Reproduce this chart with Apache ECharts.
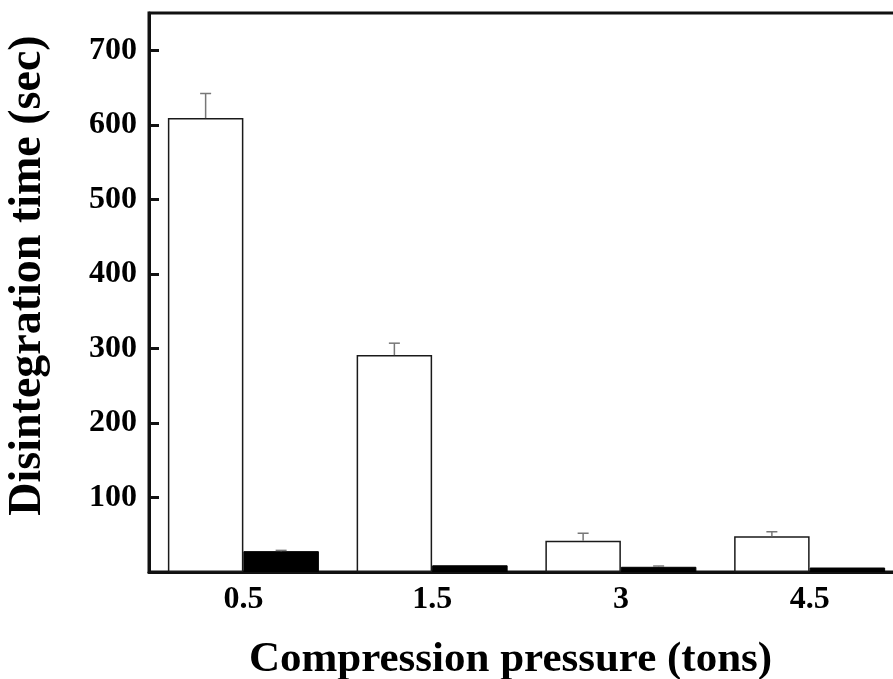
<!DOCTYPE html>
<html>
<head>
<meta charset="utf-8">
<script src="https://cdn.jsdelivr.net/npm/echarts@6/dist/echarts.min.js"></script>
<style>
    html, body { margin: 0; padding: 0; background: #fff; }
    #chart { width: 893px; height: 679px; }
</style>
</head>
<body>
<div id="chart"></div>
<script>
// Data
var categories = ['0.5', '1.5', '3', '4.5'];
var openValues = [609, 291, 42, 48];
var openErrors = [33, 16, 10, 6];
var filledValues = [28, 9, 7, 6];
var filledErrors = [1, 0, 1, 0];

var fontFamily = '"Liberation Serif", "Times New Roman", serif';

// Error bar items: [category index, value, error, side]
var errorData = [];
categories.forEach(function (c, i) {
    errorData.push([i, openValues[i], openErrors[i], -1]);
    if (filledErrors[i] > 0) {
        errorData.push([i, filledValues[i], filledErrors[i], 1]);
    }
});

var chart = echarts.init(document.getElementById('chart'), null, { renderer: 'canvas' });

chart.setOption({
    backgroundColor: '#fff',
    animation: false,
    grid: {
        left: 149,
        top: 13,
        width: 755,
        height: 559,
        outerBoundsMode: 'none',
        containLabel: false,
        show: true,
        borderColor: '#111',
        borderWidth: 3
    },
    xAxis: {
        type: 'category',
        data: categories,
        name: 'Compression pressure (tons)',
        nameLocation: 'middle',
        nameGap: 66,
        nameTextStyle: {
            fontFamily: fontFamily,
            fontWeight: 'bold',
            fontSize: 43,
            color: '#000',
            padding: [0, 32, 0, 0]
        },
        axisLine: { lineStyle: { color: '#111', width: 3 } },
        axisTick: { show: false },
        axisLabel: {
            margin: 12,
            fontFamily: fontFamily,
            fontWeight: 'bold',
            fontSize: 32,
            color: '#000'
        }
    },
    yAxis: {
        type: 'value',
        min: 0,
        max: 750,
        interval: 100,
        name: 'Disintegration time (sec)',
        nameLocation: 'middle',
        nameGap: 98,
        nameRotate: 90,
        nameTextStyle: {
            fontFamily: fontFamily,
            fontWeight: 'bold',
            fontSize: 46,
            color: '#000',
            padding: [0, 0, 0, 34]
        },
        splitLine: { show: false },
        axisLine: { show: true, lineStyle: { color: '#111', width: 3 } },
        axisTick: { show: true, inside: true, length: 10, lineStyle: { color: '#111', width: 3 } },
        axisLabel: {
            margin: 12,
            showMaxLabel: false,
            fontFamily: fontFamily,
            fontWeight: 'bold',
            fontSize: 32,
            color: '#000',
            formatter: function (v) {
                return (v === 0 || v % 100 !== 0) ? '' : v;
            }
        }
    },
    series: [
        {
            name: 'open',
            type: 'bar',
            data: openValues,
            barGap: '0%',
            barCategoryGap: '20%',
            itemStyle: { color: '#fff', borderColor: '#1a1a1a', borderWidth: 1.5 },
            z: 2
        },
        {
            name: 'filled',
            type: 'bar',
            data: filledValues,
            itemStyle: { color: '#000', borderColor: '#000', borderWidth: 1 },
            z: 2
        },
        {
            name: 'error',
            type: 'custom',
            data: errorData,
            z: 3,
            renderItem: function (params, api) {
                var idx = api.value(0);
                var val = api.value(1);
                var err = api.value(2);
                var side = api.value(3);
                var band = api.size([1, 0])[0];
                var base = api.coord([idx, val]);
                var top = api.coord([idx, val + err]);
                var x = base[0] + side * 0.2 * band;
                var style = { stroke: '#777', lineWidth: 1.5 };
                return {
                    type: 'group',
                    children: [
                        { type: 'line', shape: { x1: x, y1: base[1], x2: x, y2: top[1] }, style: style },
                        { type: 'line', shape: { x1: x - 5.5, y1: top[1], x2: x + 5.5, y2: top[1] }, style: style }
                    ]
                };
            }
        }
    ]
});
</script>
</body>
</html>
